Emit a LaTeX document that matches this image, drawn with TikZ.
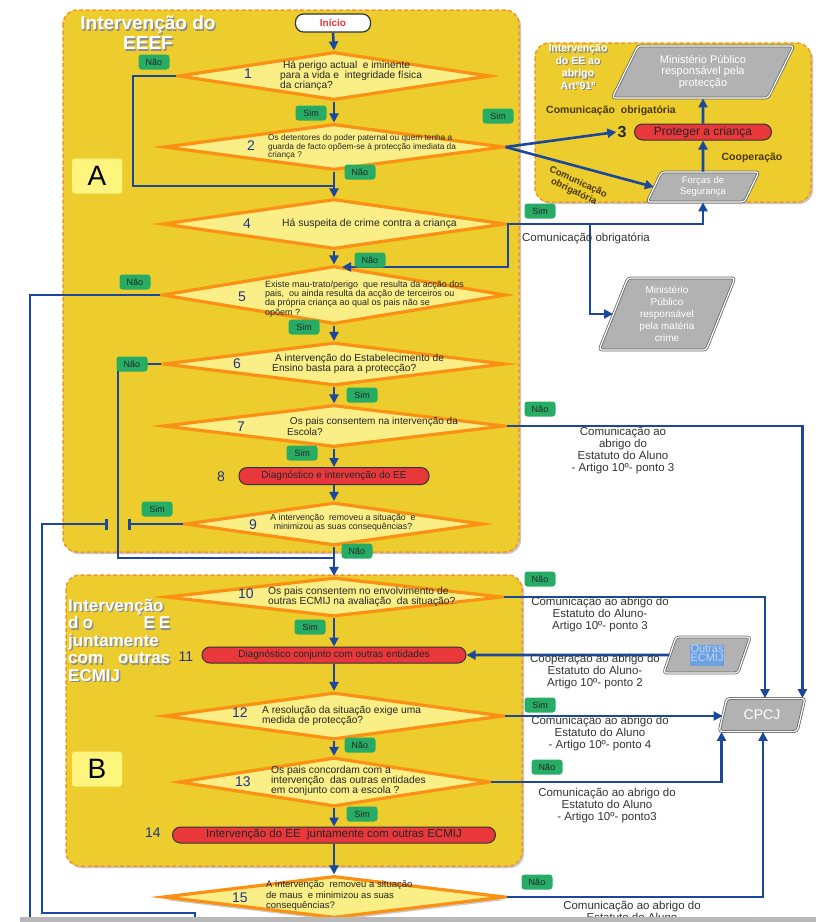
\documentclass[tikz,border=0pt]{standalone}
\usepackage{fontspec}
\setmainfont{Liberation Sans}
\usetikzlibrary{shapes.geometric,arrows.meta,shadows}

\definecolor{panel}{RGB}{236,205,45}
\definecolor{panelline}{RGB}{247,150,30}
\definecolor{dfill}{RGB}{250,238,135}
\definecolor{dline}{RGB}{250,145,20}
\definecolor{tag}{RGB}{38,172,100}
\definecolor{flow}{RGB}{28,72,155}
\definecolor{boxred}{RGB}{232,56,60}
\definecolor{para}{RGB}{178,178,178}
\definecolor{numblue}{RGB}{32,52,140}
\definecolor{olive}{RGB}{75,55,10}
\definecolor{abox}{RGB}{253,245,125}
\definecolor{hl}{RGB}{110,160,225}
\definecolor{hltext}{RGB}{185,215,248}

\tikzset{
  panelbox/.style={draw=panelline, fill=panel, dash pattern=on 4pt off 2.5pt, line width=1.5pt,
    rounded corners=14pt, drop shadow={shadow xshift=2pt, shadow yshift=-2pt, opacity=0.45}},
  dec/.style={shape=diamond, draw=dline, fill=dfill, line width=3.2pt, inner sep=0pt},
  tagbox/.style={fill=tag, rounded corners=3pt, font=\fontsize{9}{9}\selectfont, text=black!85,
    minimum width=31pt, minimum height=15pt, inner sep=1pt},
  flowline/.style={draw=flow, line width=2.6pt},
  flowarr/.style={flowline, -{Triangle[length=9pt,width=9pt]}},
  redbox/.style={draw=black!80, fill=boxred, line width=1pt, rounded corners=8pt, inner sep=0pt,
    text=black!85, font=\fontsize{10}{10}\selectfont},
  parabox/.style={shape=trapezium, trapezium stretches=true, fill=para, draw=black!60, double=white,
    double distance=1.2pt, line width=0.8pt, rounded corners=3pt, text=white, align=center, inner sep=0pt},
  num/.style={text=numblue, font=\fontsize{14}{14}\selectfont, inner sep=0pt},
  qtext/.style={anchor=west, align=left, text=black!85, inner sep=0pt},
  note/.style={align=center, text=black!80, font=\fontsize{11.5}{12}\selectfont, inner sep=0pt},
  olivetext/.style={text=olive, font=\bfseries\fontsize{10.5}{11}\selectfont, inner sep=0pt, align=center},
  ttl/.style={text=white, font=\bfseries\fontsize{19}{20}\selectfont, align=center, inner sep=0pt},
  ttlsh/.style={ttl, text=black!45, xshift=1.3pt, yshift=-1.3pt},
  letterbox/.style={fill=abox, rounded corners=3pt, minimum width=50pt, minimum height=35pt,
    font=\fontsize{28}{28}\selectfont}
}

\begin{document}
\begin{tikzpicture}[x=1pt,y=-1pt]
\useasboundingbox (0,0) rectangle (816,922);

% Panels
\path[panelbox] (63,10) rectangle (519,552);
\path[panelbox] (535,43) rectangle (811,202);
\path[panelbox] (66,575) rectangle (522,866);

% Titles
\node[ttlsh] at (148,33) {Intervenção do\\EEEF};
\node[ttl] (ttlA) at (148,33) {Intervenção do\\EEEF};
\node[ttlsh, font=\bfseries\fontsize{10.5}{12.5}\selectfont] at (578,67) {Intervenção\\do EE ao\\abrigo\\Artº91º};
\node[ttl, font=\bfseries\fontsize{10.5}{12.5}\selectfont] (ttl3) at (578,67) {Intervenção\\do EE ao\\abrigo\\Artº91º};
\node[ttlsh, anchor=north west, text width=102pt, align=left, font=\bfseries\fontsize{17}{17.5}\selectfont] at (68,599)
  {Intervenção\\d\hspace{4pt}o\hfill E\hspace{4pt}E\\juntamente\\com\hfill outras\\ECMIJ};
\node[ttl, anchor=north west, text width=102pt, align=left, font=\bfseries\fontsize{17}{17.5}\selectfont] (ttlB) at (68,599)
  {Intervenção\\d\hspace{4pt}o\hfill E\hspace{4pt}E\\juntamente\\com\hfill outras\\ECMIJ};

% Letter boxes
\node[letterbox] (boxA) at (97,176) {A};
\node[letterbox] (boxB) at (97,769) {B};

% Start
\node[draw=black!80, fill=white, rounded corners=8pt, minimum width=75pt, minimum height=18pt, line width=1.2pt,
  text=boxred, font=\bfseries\fontsize{10}{10}\selectfont] (start) at (333,23) {Início};

% Decisions
\node[dec, minimum width=312pt, minimum height=48pt] (d1) at (334,76) {};
\node[dec, minimum width=340pt, minimum height=46pt] (d2) at (334,147) {};
\node[dec, minimum width=343pt, minimum height=50pt] (d4) at (334,224) {};
\node[dec, minimum width=344pt, minimum height=58pt] (d5) at (334,295) {};
\node[dec, minimum width=342pt, minimum height=43pt] (d6) at (334,364) {};
\node[dec, minimum width=342pt, minimum height=42pt] (d7) at (334,426) {};
\node[dec, minimum width=298pt, minimum height=43pt] (d9) at (334,524) {};
\node[dec, minimum width=336pt, minimum height=39pt] (d10) at (334,597) {};
\node[dec, minimum width=339pt, minimum height=47pt] (d12) at (334,716) {};
\node[dec, minimum width=311pt, minimum height=49pt] (d13) at (334,782) {};
\node[dec, minimum width=342pt, minimum height=42pt, drop shadow={shadow xshift=1pt, shadow yshift=-3pt, opacity=0.4}] (d15) at (334,897) {};

% Action boxes
\node[redbox, minimum width=190pt, minimum height=17pt] (n8) at (334,476) {Diagnóstico e intervenção do EE};
\node[redbox, minimum width=264pt, minimum height=16pt] (n11) at (334,655) {Diagnóstico conjunto com outras entidades};
\node[redbox, minimum width=323pt, minimum height=16pt, font=\fontsize{11.5}{11.5}\selectfont] (n14) at (334,835) {Intervenção do EE\ \ juntamente com outras ECMIJ};
\node[redbox, minimum width=137pt, minimum height=16pt, font=\fontsize{12}{12}\selectfont] (pc) at (703,132) {Proteger a criança};

% Entities
\node[parabox, trapezium left angle=63, trapezium right angle=117, minimum width=182pt, minimum height=52pt,
  font=\fontsize{11}{11.5}\selectfont] (mp) at (703,72) {Ministério Público\\responsável pela\\protecção};
\node[parabox, trapezium left angle=68, trapezium right angle=112, minimum width=112pt, minimum height=30pt,
  font=\fontsize{9.5}{11}\selectfont] (fs) at (703,187) {Forças de\\Segurança};
\node[parabox, trapezium left angle=70, trapezium right angle=110, minimum width=137pt, minimum height=72pt,
  font=\fontsize{10}{12}\selectfont] (mc) at (667,314) {Ministério\\Público\\responsável\\pela matéria\\crime};
\node[parabox, trapezium left angle=68, trapezium right angle=112, minimum width=86pt, minimum height=33pt,
  font=\fontsize{14}{14}\selectfont] (cpcj) at (762,715) {CPCJ};
\node[parabox, trapezium left angle=72, trapezium right angle=108, minimum width=87pt, minimum height=36pt,
  font=\fontsize{11}{11}\selectfont, text=hltext] (oe) at (707,655) {\fboxsep=0.5pt\colorbox{hl}{\begin{tabular}{@{}c@{}}Outras\\[-2pt]ECMIJ\end{tabular}}};

% Step numbers
\node[num] (no1) at (248,74) {1};
\node[num] (no2) at (251,146) {2};
\node[font=\bfseries\fontsize{16}{16}\selectfont, text=black!85, inner sep=1pt] (no3) at (622,132) {3};
\node[num] (no4) at (247,224) {4};
\node[num] (no5) at (242,297) {5};
\node[num] (no6) at (237,364) {6};
\node[num] (no7) at (241,427) {7};
\node[num] (no8) at (221,477) {8};
\node[num] (no9) at (253,525) {9};
\node[num] (no10) at (246,594) {10};
\node[num] (no11) at (186,657) {11};
\node[num] (no12) at (240,713) {12};
\node[num] (no13) at (243,782) {13};
\node[num] (no14) at (153,833) {14};
\node[num] (no15) at (240,898) {15};

% Bend points
\coordinate (c1) at (133,186);
\coordinate (j24) at (334,186);
\coordinate (j4) at (590,224);
\coordinate (c4) at (508,267);
\coordinate (c5) at (342,267);
\coordinate (c6) at (30,922);
\coordinate (c7) at (118,558);
\coordinate (j910) at (334,558);
\coordinate (b9a) at (128,524);
\coordinate (b9b) at (108,524);
\coordinate (c9) at (42,524);
\coordinate (c10) at (42,913);
\coordinate (c11) at (195,913);
\coordinate (c12) at (195,922);

% Connectors
\draw[flowarr] (start.south) -- (d1.north);
\draw[flowarr] (d1.south) -- (d2.north);
\draw[flowline] (d1.west) -| (c1) -- (j24);
\draw[flowarr] (d2.south) -- (d4.north);
\draw[flowarr] (d2.east) -- (no3.west);
\draw[flowarr] (d2.east) -- (fs.west);
\draw[flowarr] (pc.north) -- (mp.south);
\draw[flowarr] (fs.north) -- (pc.south);
\draw[flowarr] (d4.east) -| (fs.south);
\draw[flowarr] (j4) |- (mc.west);
\draw[flowarr] (d4.east) -| (c4) -- (c5);
\draw[flowarr] (d4.south) -- (d5.north);
\draw[flowline] (d5.west) -| (c6);
\draw[flowarr] (d5.south) -- (d6.north);
\draw[flowline] (d6.west) -| (c7) -- (j910);
\draw[flowarr] (d6.south) -- (d7.north);
\draw[flowarr] (d7.east) -| ([xshift=-3pt]cpcj.top right corner);
\draw[flowarr] (d7.south) -- (n8.north);
\draw[flowarr] (n8.south) -- (d9.north);
\draw[flowline, -{Bar[width=11pt]}] (d9.west) -- (b9a);
\draw[flowline, {Bar[width=11pt]}-] (b9b) -- (c9) -- (c10) -- (c11) -- (c12);
\draw[flowline] (d9.south) -- (j910);
\draw[flowarr] (j910) -- (d10.north);
\draw[flowarr] (d10.east) -| ([xshift=3pt]cpcj.north);
\draw[flowarr] (d10.south) -- (n11.north);
\draw[flowarr] (oe.west) -- (n11.east);
\draw[flowarr] (n11.south) -- (d12.north);
\draw[flowarr] (d12.east) -- (d12.east -| cpcj.west);
\draw[flowarr] (d12.south) -- (d13.north);
\draw[flowarr] (d13.east) -| ([xshift=3pt]cpcj.bottom left corner);
\draw[flowarr] (d13.south) -- (n14.north);
\draw[flowarr] (n14.south) -- (d15.north);
\draw[flowarr] (d15.east) -| ([xshift=1pt]cpcj.south);

% Question texts
\node[qtext, font=\fontsize{10.2}{10}\selectfont] (q1) at (280,76) {\ Há perigo actual\ \ e iminente\\para a vida e\ \ integridade física\\da criança?};
\node[qtext, font=\fontsize{8.3}{8.6}\selectfont] (q2) at (268,147) {Os detentores do poder paternal ou quem tenha a\\guarda de facto opõem-se à protecção imediata da\\criança ?};
\node[qtext, font=\fontsize{10.4}{11}\selectfont] (q4) at (282,224) {Há suspeita de crime contra a criança};
\node[qtext, font=\fontsize{9}{9.2}\selectfont] (q5) at (265,299) {Existe mau-trato/perigo\ \ que resulta da acção dos\\pais,\ \ ou ainda resulta da acção de terceiros ou\\da própria criança ao qual os pais não se\\opõem ?};
\node[qtext, font=\fontsize{10.2}{10.5}\selectfont] (q6) at (272,364) {\ A intervenção do Estabelecimento de\\Ensino basta para a protecção?};
\node[qtext, font=\fontsize{10}{11}\selectfont] (q7) at (287,426) {\ Os pais consentem na intervenção da\\Escola?};
\node[align=center, text=black!85, inner sep=0pt, font=\fontsize{8.8}{9.3}\selectfont] (q9) at (343,523) {A intervenção\ \ removeu a situação\ \ e\\minimizou as suas consequências?};
\node[qtext, font=\fontsize{10.3}{10.5}\selectfont] (q10) at (268,597) {Os pais consentem no envolvimento de\\outras ECMIJ na avaliação\ \ da situação?};
\node[qtext, font=\fontsize{10.2}{10}\selectfont] (q12) at (262,716) {A resolução da situação exige uma\\medida de protecção?};
\node[qtext, font=\fontsize{10.3}{10}\selectfont] (q13) at (271,781) {Os pais concordam com a\\intervenção\ \ das outras entidades\\em conjunto com a escola ?};
\node[qtext, font=\fontsize{9.5}{10.5}\selectfont] (q15) at (266,896) {A intervenção\ \ removeu a situação\\de maus\ \ e minimizou as suas\\consequências?};

% Communication texts
\node[olivetext] (cobr3) at (611,111) {Comunicação\ \ obrigatória};
\node[olivetext] (coop) at (752,158) {Cooperação};
\node[olivetext, rotate=-25, font=\bfseries\fontsize{9.5}{10.5}\selectfont] (cobr2) at (576,187) {Comunicação\\obrigatória};
\node[note, font=\fontsize{11.5}{12}\selectfont] (cobr4) at (586,238) {Comunicação obrigatória};
\node[note] (note7) at (623,451) {Comunicação ao\\abrigo do\\Estatuto do Aluno\\ - Artigo 10º- ponto 3};
\node[note] (note10) at (600,615) {Comunicação ao abrigo do\\Estatuto do Aluno-\\Artigo 10º- ponto 3};
\node[note] (note11) at (595,672) {Cooperação ao abrigo do\\Estatuto do Aluno-\\Artigo 10º- ponto 2};
\node[note] (note12) at (600,734) {Comunicação ao abrigo do\\Estatuto do Aluno\\ - Artigo 10º- ponto 4};
\node[note] (note13) at (607,806) {Comunicação ao abrigo do\\Estatuto do Aluno\\ - Artigo 10º- ponto3};
\node[note] (note15) at (632,911) {Comunicação ao abrigo do\\Estatuto do Aluno};

% Answer tags
\node[tagbox] (nao1) at (154,62) {Não};
\node[tagbox] (sim1) at (311,113) {Sim};
\node[tagbox] (sim2) at (498,116) {Sim};
\node[tagbox] (nao2) at (360,172) {Não};
\node[tagbox] (sim4) at (540,211) {Sim};
\node[tagbox] (nao4) at (370,260) {Não};
\node[tagbox] (nao5) at (135,282) {Não};
\node[tagbox] (sim5) at (304,327) {Sim};
\node[tagbox] (nao6) at (132,364) {Não};
\node[tagbox] (sim6) at (362,395) {Sim};
\node[tagbox] (nao7) at (540,409) {Não};
\node[tagbox] (sim7) at (302,453) {Sim};
\node[tagbox] (sim9) at (157,509) {Sim};
\node[tagbox] (nao9) at (357,551) {Não};
\node[tagbox] (nao10) at (540,579) {Não};
\node[tagbox] (sim10) at (310,627) {Sim};
\node[tagbox] (sim12) at (540,705) {Sim};
\node[tagbox] (nao12) at (360,745) {Não};
\node[tagbox] (nao13) at (547,767) {Não};
\node[tagbox] (sim13) at (362,814) {Sim};
\node[tagbox] (nao15) at (537,882) {Não};

% Bottom edge
\fill[black!28] (20,917) rectangle (816,922);

\end{tikzpicture}
\end{document}
